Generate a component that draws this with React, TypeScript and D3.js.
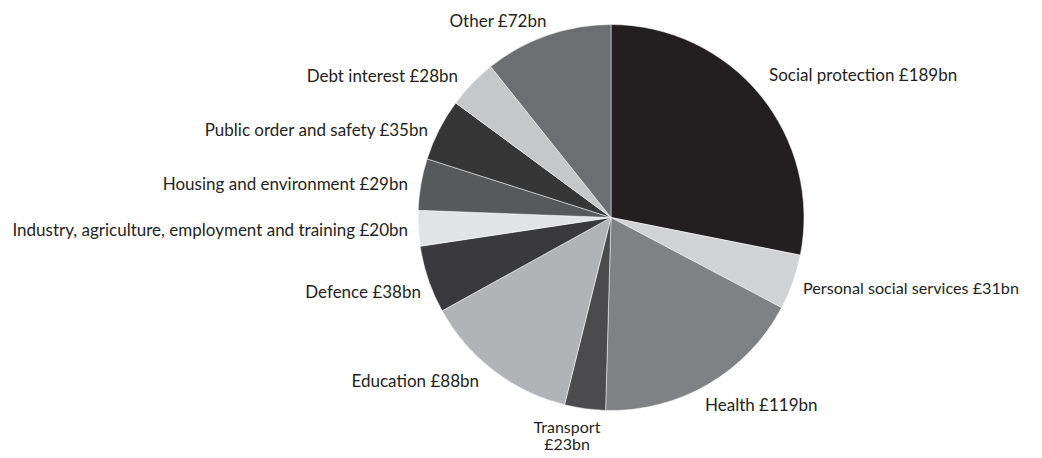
import * as d3 from "d3";
import { useEffect, useRef } from "react";

const categories = [
  "Social protection",
  "Personal social services",
  "Health",
  "Transport",
  "Education",
  "Defence",
  "Industry, agriculture, employment and training",
  "Housing and environment",
  "Public order and safety",
  "Debt interest",
  "Other",
];

const spending = [189, 31, 119, 23, 88, 38, 20, 29, 35, 28, 72];

const sliceColors = [
  "#231f20",
  "#d1d2d4",
  "#808184",
  "#4b4b4d",
  "#b1b3b6",
  "#3a3a3c",
  "#e2e3e4",
  "#58595b",
  "#363637",
  "#c6c7c9",
  "#6d6e71",
];

// label anchor spots (x, y, text-anchor), hand placed like the original
const labelSpots: [number, number, string][] = [
  [769, 75, "start"],
  [803, 288, "start"],
  [705, 405, "start"],
  [567, 427, "middle"],
  [479, 381, "end"],
  [421, 292, "end"],
  [408, 230, "end"],
  [408, 184, "end"],
  [428, 130, "end"],
  [458, 76, "end"],
  [498, 21, "middle"],
];

type Slice = { name: string; value: number };

const App = () => {
  const ref = useRef<HTMLDivElement>(null);

  useEffect(() => {
    const width = 1042;
    const height = 458;
    const cx = 611;
    const cy = 217.5;
    const radius = 193;

    const data: Slice[] = categories.map((c, i) => ({ name: c, value: spending[i] }));

    d3.select(ref.current).select("svg").remove();

    const svg = d3
      .select(ref.current)
      .append("svg")
      .attr("width", width)
      .attr("height", height)
      .style("display", "block")
      .style("background", "#fff");

    const pie = d3
      .pie<Slice>()
      .sort(null)
      .value((d) => d.value);

    const arc = d3.arc<d3.PieArcDatum<Slice>>().innerRadius(0).outerRadius(radius);

    const g = svg.append("g").attr("transform", `translate(${cx}, ${cy})`);

    g.selectAll("path")
      .data(pie(data))
      .join("path")
      .attr("d", arc)
      .attr("fill", (d, i) => sliceColors[i])
      .attr("stroke", "#fff")
      .attr("stroke-width", 0.5);

    const labels = svg
      .append("g")
      .attr("font-family", "Lato, 'Open Sans', sans-serif")
      .attr("font-size", "17px")
      .attr("fill", "#231f20");

    data.forEach((d, i) => {
      const [x, y, anchor] = labelSpots[i];
      if (d.name === "Transport") {
        // two lines, tight like the original
        const t = labels.append("text").attr("text-anchor", anchor).attr("font-size", "16px");
        t.append("tspan").attr("x", x).attr("y", y).attr("dy", "0.35em").text(d.name);
        t.append("tspan")
          .attr("x", x)
          .attr("y", y + 17)
          .attr("dy", "0.35em")
          .text(`£${d.value}bn`);
      } else {
        labels
          .append("text")
          .attr("x", x)
          .attr("y", y)
          .attr("text-anchor", anchor)
          .attr("dy", "0.35em")
          .attr("font-size", d.name === "Personal social services" ? "16.2px" : null)
          .text(`${d.name} £${d.value}bn`);
      }
    });
  }, []);

  return <div ref={ref} style={{ margin: -8 }}></div>;
};

export default App;
